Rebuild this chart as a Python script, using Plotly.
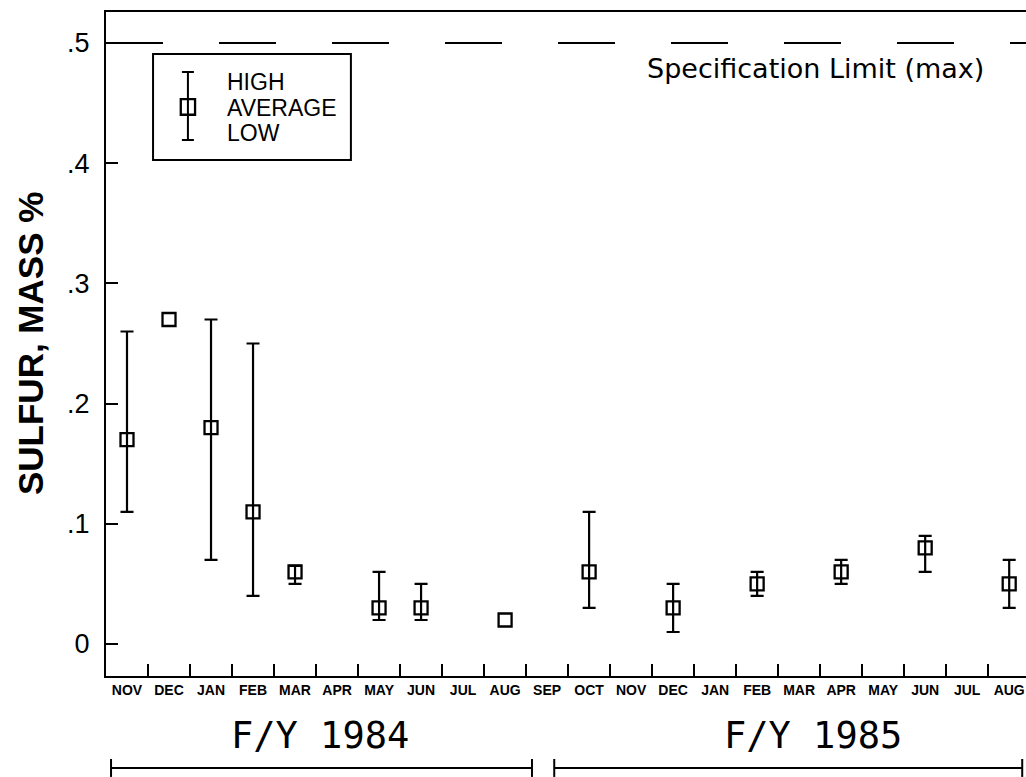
import plotly.graph_objects as go

# ---------------- data ----------------
months = ["NOV", "DEC", "JAN", "FEB", "MAR", "APR", "MAY", "JUN", "JUL", "AUG", "SEP",
          "OCT", "NOV", "DEC", "JAN", "FEB", "MAR", "APR", "MAY", "JUN", "JUL", "AUG"]
fiscal_years = ["F/Y 1984", "F/Y 1985"]
sample_month_index = [0, 1, 2, 3, 4, 6, 7, 9, 11, 13, 15, 17, 19, 21]
sulfur_avg = [0.17, 0.27, 0.18, 0.11, 0.06, 0.03, 0.03, 0.02, 0.06, 0.03, 0.05, 0.06, 0.08, 0.05]
sulfur_high = [0.26, None, 0.27, 0.25, 0.065, 0.06, 0.05, None, 0.11, 0.05, 0.06, 0.07, 0.09, 0.07]
sulfur_low = [0.11, None, 0.07, 0.04, 0.05, 0.02, 0.02, None, 0.03, 0.01, 0.04, 0.05, 0.06, 0.03]
spec_limit = 0.5
y_ticks = [0, 0.1, 0.2, 0.3, 0.4, 0.5]
y_ticktext = ["0", ".1", ".2", ".3", ".4", ".5"]

# ---------------- figure ----------------
BLACK = "black"
XR = [0, 21.9]
YR = [-0.0266, 0.5258]

fig = go.Figure()

xe, ye, up, dn = [], [], [], []
xn, yn = [], []
for i, a, h, l in zip(sample_month_index, sulfur_avg, sulfur_high, sulfur_low):
    if h is None:
        xn.append(i + 0.5)
        yn.append(a)
    else:
        xe.append(i + 0.5)
        ye.append(a)
        up.append(h - a)
        dn.append(a - l)

marker = dict(symbol="square-open", size=13, color=BLACK, line=dict(width=2.3, color=BLACK))
fig.add_trace(go.Scatter(
    x=xe, y=ye, mode="markers", marker=marker, showlegend=False,
    error_y=dict(type="data", symmetric=False, array=up, arrayminus=dn,
                 color=BLACK, thickness=2.2, width=6.5),
))
# points without a range, drawn on the labelled overlay axis (same range)
fig.add_trace(go.Scatter(x=xn, y=yn, mode="markers", marker=marker, showlegend=False,
                         xaxis="x2"))

# spec limit dashed line
fig.add_shape(type="line", xref="paper", x0=0, x1=1, yref="y", y0=spec_limit, y1=spec_limit,
              line=dict(color=BLACK, width=2, dash="57px,56px"))
fig.add_annotation(x=16.9, y=0.479, xref="x", yref="y", text="Specification Limit (max)",
                   showarrow=False, yanchor="middle",
                   font=dict(family="DejaVu Sans", size=27, color=BLACK))

# legend box (drawn)
fig.add_shape(type="rect", x0=1.12, x1=5.83, y0=0.4027, y1=0.4908,
              line=dict(color=BLACK, width=2), fillcolor="white")
lx = 1.95
fig.add_shape(type="line", x0=lx, x1=lx, y0=0.4193, y1=0.4759, line=dict(color=BLACK, width=2))
for yy in (0.4193, 0.4759):
    fig.add_shape(type="line", x0=lx - 0.143, x1=lx + 0.143, y0=yy, y1=yy,
                  line=dict(color=BLACK, width=2))
fig.add_shape(type="rect", x0=lx - 0.17, x1=lx + 0.17, y0=0.4468 - 0.0065, y1=0.4468 + 0.0065,
              line=dict(color=BLACK, width=2.3), fillcolor="rgba(0,0,0,0)")
for txt, yy in (("HIGH", 0.4676), ("AVERAGE", 0.4459), ("LOW", 0.4251)):
    fig.add_annotation(x=2.83, y=yy, xref="x", yref="y", text=txt, showarrow=False,
                       xanchor="left", yanchor="middle",
                       font=dict(family="Liberation Sans", size=23, color=BLACK))

# fiscal year labels and brackets
fy_centers = [5.1, 16.83]
fy_spans = [(0.12, 10.14), (10.67, 21.81)]
for lab, cx, (a, b) in zip(fiscal_years, fy_centers, fy_spans):
    fig.add_annotation(x=cx, y=-0.0889, xref="x", yref="paper", text=lab, showarrow=False,
                       xanchor="center", yanchor="middle",
                       font=dict(family="DejaVu Sans Mono", size=37, color=BLACK))
    fig.add_shape(type="line", xref="x", yref="paper", x0=a, x1=b, y0=-0.1386, y1=-0.1386,
                  line=dict(color=BLACK, width=2))
    for xx in (a, b):
        fig.add_shape(type="line", xref="x", yref="paper", x0=xx, x1=xx, y0=-0.125, y1=-0.152,
                      line=dict(color=BLACK, width=2))

# y-axis title
fig.add_annotation(x=-0.0826, y=0.5, xref="paper", yref="paper", text="SULFUR, MASS %",
                   textangle=-90, showarrow=False, xanchor="center", yanchor="middle",
                   font=dict(family="Liberation Sans", size=35, color=BLACK, weight="bold"))

fig.update_layout(
    width=1026, height=777,
    margin=dict(l=106, r=0, t=12, b=101),
    paper_bgcolor="white", plot_bgcolor="white",
    showlegend=False,
    xaxis=dict(range=XR, tickvals=list(range(1, len(months))), ticks="inside", ticklen=12,
               tickwidth=2, tickcolor=BLACK, showticklabels=False, showline=True, linewidth=2,
               linecolor=BLACK, mirror=True, showgrid=False, zeroline=False),
    xaxis2=dict(range=XR, overlaying="x", anchor="y", side="bottom",
                tickvals=[i + 0.5 for i in range(len(months))], ticktext=months, ticks="",
                showline=False, showgrid=False, zeroline=False, ticklabeloverflow="allow",
                ticklabelstandoff=4,
                tickfont=dict(family="Liberation Sans", size=14, color=BLACK, weight="bold")),
    yaxis=dict(range=YR, tickvals=y_ticks, ticktext=y_ticktext, ticks="inside", ticklen=12,
               tickwidth=2, tickcolor=BLACK, showline=True, linewidth=2, linecolor=BLACK,
               showgrid=False, zeroline=False, ticklabelstandoff=9,
               tickfont=dict(family="Liberation Sans", size=27, color=BLACK)),
)

fig.write_html("out.html", config={"displayModeBar": False},
               post_script="document.body.style.margin='0px';document.body.style.overflow='hidden';")
